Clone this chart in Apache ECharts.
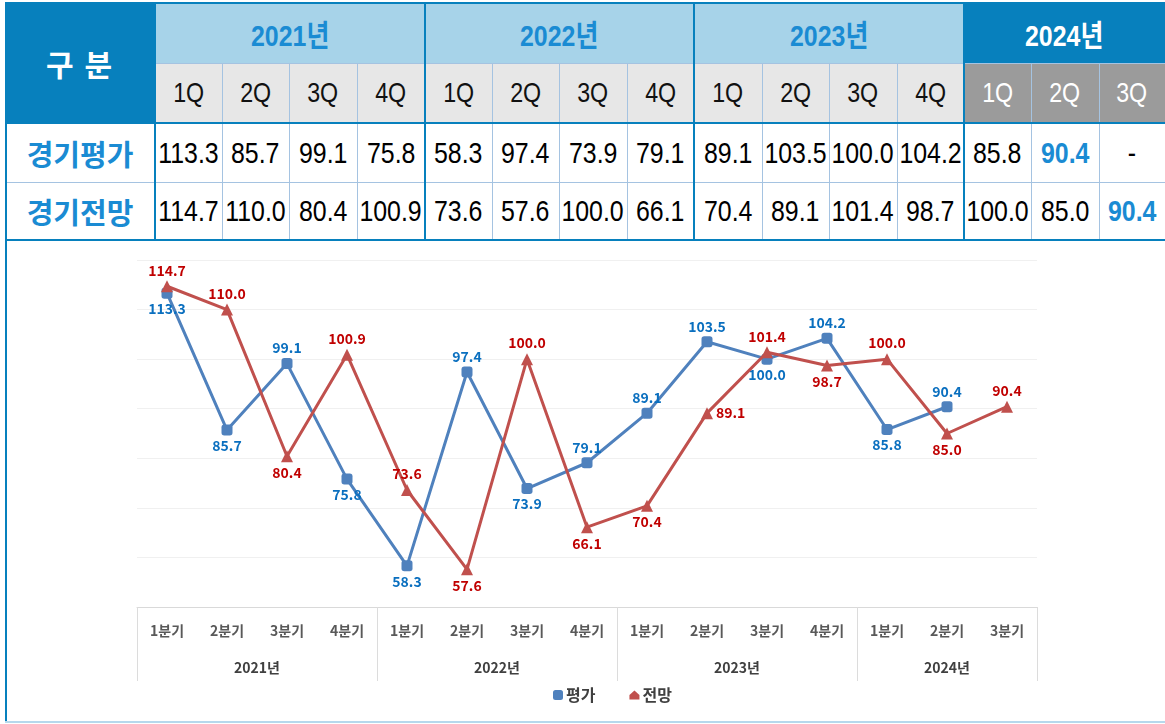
<!DOCTYPE html>
<html>
<head>
<meta charset="utf-8">
<script src="https://cdn.jsdelivr.net/npm/echarts@6/dist/echarts.min.js"></script>
<style>
  html, body { margin: 0; padding: 0; background: #fff; width: 1165px; height: 724px; overflow: hidden; position: relative; font-family: "Noto Sans CJK KR", sans-serif; }
  .cell { position: absolute; display: flex; align-items: center; justify-content: center; white-space: nowrap; }
  .num span { display: inline-block; font-family: "Liberation Sans", Arial, "Noto Sans CJK KR", sans-serif; transform: scaleX(0.83); }
  .ln { position: absolute; z-index: 5; }
  #main { position: absolute; left: 0; top: 240px; width: 1165px; height: 484px; }
</style>
</head>
<body>
<div id="tbl"></div>
<div id="main"></div>
<script>
// 데이터
const years = ['2021년', '2022년', '2023년', '2024년']
const quarterCounts = [4, 4, 4, 3]
const tableQuarters = ['1Q', '2Q', '3Q', '4Q', '1Q', '2Q', '3Q', '4Q', '1Q', '2Q', '3Q', '4Q', '1Q', '2Q', '3Q']
const axisQuarters = ['1분기', '2분기', '3분기', '4분기', '1분기', '2분기', '3분기', '4분기', '1분기', '2분기', '3분기', '4분기', '1분기', '2분기', '3분기']
const rowNames = ['경기평가', '경기전망']
const seriesNames = ['평가', '전망']
const evalValues = [113.3, 85.7, 99.1, 75.8, 58.3, 97.4, 73.9, 79.1, 89.1, 103.5, 100.0, 104.2, 85.8, 90.4, null]
const forecastValues = [114.7, 110.0, 80.4, 100.9, 73.6, 57.6, 100.0, 66.1, 70.4, 89.1, 101.4, 98.7, 100.0, 85.0, 90.4]

// 라벨 위치
const evalLabelPos = ['bottom', 'bottom', 'top', 'bottom', 'bottom', 'top', 'bottom', 'top', 'top', 'top', 'bottom', 'top', 'bottom', 'top', 'top']
const forecastLabelPos = ['top', 'top', 'bottom', 'top', 'top', 'bottom', 'top', 'bottom', 'bottom', 'right', 'top', 'bottom', 'top', 'bottom', 'top']

// ---- 표 ----
const colEdges = [155, 222, 289, 357, 425, 492, 559, 627, 694, 762, 829, 897, 964, 1031, 1099, 1165]
const rowEdges = [3, 63, 123, 182, 240]
const tbl = document.getElementById('tbl')
const DARK = '#0780bd', LIGHT = '#a7d3e9', TXTBLUE = '#1a8bd3'

function box(x, y, w, h, css, text, cls) {
  const d = document.createElement('div')
  d.className = cls || 'cell'
  d.style.left = x + 'px'; d.style.top = y + 'px'
  d.style.width = w + 'px'; d.style.height = h + 'px'
  Object.assign(d.style, css || {})
  if (text !== undefined) {
    if (cls === 'cell num') {
      const sp = document.createElement('span')
      sp.textContent = text
      d.appendChild(sp)
    } else {
      d.textContent = text
    }
  }
  tbl.appendChild(d)
  return d
}

box(5, rowEdges[0], colEdges[0] - 5, rowEdges[2] - rowEdges[0], { background: DARK, color: '#fff', fontSize: '30px', fontWeight: 'bold', letterSpacing: '2px' }, '구 분')

let c = 0
years.forEach((y, i) => {
  const last = i === years.length - 1
  const x0 = colEdges[c], x1 = colEdges[c + quarterCounts[i]]
  box(x0, rowEdges[0], x1 - x0, rowEdges[1] - rowEdges[0], { background: last ? DARK : LIGHT, color: last ? '#fff' : TXTBLUE, fontSize: '30px', fontWeight: 'bold' }, y, 'cell num')
  for (let k = 0; k < quarterCounts[i]; k++) {
    const j = c + k
    box(colEdges[j], rowEdges[1], colEdges[j + 1] - colEdges[j], rowEdges[2] - rowEdges[1], { background: last ? '#9b9b9b' : '#e7e7e7', color: last ? '#fff' : '#111', fontSize: '28px' }, tableQuarters[j], 'cell num')
  }
  c += quarterCounts[i]
})

const tableRows = [evalValues, forecastValues]
tableRows.forEach((vals, r) => {
  const y0 = rowEdges[2 + r], y1 = rowEdges[3 + r]
  box(5, y0, colEdges[0] - 5, y1 - y0, { color: TXTBLUE, fontSize: '29px', fontWeight: 'bold' }, rowNames[r])
  let lastIdx = -1
  vals.forEach((v, j) => { if (v !== null) lastIdx = j })
  vals.forEach((v, j) => {
    const hi = j === lastIdx
    box(colEdges[j], y0, colEdges[j + 1] - colEdges[j], y1 - y0, { color: hi ? TXTBLUE : '#000', fontSize: '30px', fontWeight: hi ? 'bold' : 'normal' }, v === null ? '-' : v.toFixed(1), 'cell num')
  })
})

// 선
function line(x, y, w, h, color) { box(x, y, w, h, { background: color }, undefined, 'ln') }
const THIN = '#a5c3e1'
colEdges.slice(1, -1).forEach((x) => {
  line(x, rowEdges[1], 1, rowEdges[4] - rowEdges[1], THIN)
})
line(colEdges[0], rowEdges[1], 1165 - colEdges[0], 1, THIN)
line(5, rowEdges[3], 1160, 1, THIN)
let acc = 0
;[0].concat(quarterCounts.slice(0, -1)).forEach(n => {
  acc += n
  line(colEdges[acc] - 1, rowEdges[0], 2, rowEdges[4] - rowEdges[0], DARK)
})
line(5, rowEdges[0] - 1, 1160, 2, DARK)
line(5, rowEdges[2] - 1, 1160, 2, DARK)
line(5, rowEdges[4] - 1, 1160, 2, DARK)
line(5, rowEdges[0] - 1, 2, 722 - rowEdges[0], DARK)
line(5, 721, 1160, 2, '#b6d8ec')

// ---- 차트 ----
const chart = echarts.init(document.getElementById('main'))
const FONT = 'Noto Sans CJK KR'
const yearCenters = []
let s = 0
quarterCounts.forEach(n => { yearCenters.push(s + n / 2); s += n })
const groupStarts = []
s = 0
quarterCounts.forEach(n => { groupStarts.push(s); s += n })

function labelData(vals, pos) {
  return vals.map((v, i) => ({ value: v, label: { position: pos[i] } }))
}
const fmt = (p) => p.value == null ? '' : Number(p.value).toFixed(1)

chart.setOption({
  backgroundColor: 'transparent',
  animation: false,
  grid: { left: 137, right: 128, top: 20, bottom: 117 },
  legend: {
    left: 548,
    top: 442,
    itemGap: 34,
    itemWidth: 10,
    itemHeight: 10,
    textStyle: { color: '#404040', fontSize: 16, fontWeight: 'bold', fontFamily: FONT, padding: [0, 0, 0, -2] },
    data: [
      { name: seriesNames[0], icon: 'roundRect' },
      { name: seriesNames[1], icon: 'path://M5,0 L10,4.5 L10,9 L0,9 L0,4.5 Z' }
    ]
  },
  xAxis: [
    {
      type: 'category',
      data: axisQuarters,
      boundaryGap: true,
      axisLine: { lineStyle: { color: '#d9d9d9' } },
      axisTick: {
        show: true,
        length: 74,
        interval: (idx) => groupStarts.indexOf(idx) >= 0,
        lineStyle: { color: '#dcdcdc' }
      },
      axisLabel: { interval: 0, margin: 17, color: '#595959', fontSize: 14, fontWeight: 'bold', fontFamily: FONT }
    },
    {
      type: 'value',
      position: 'bottom',
      min: 0,
      max: axisQuarters.length,
      interval: 0.5,
      axisLine: { show: false },
      axisTick: { show: false },
      splitLine: { show: false },
      axisLabel: {
        margin: 54,
        color: '#404040',
        fontSize: 14,
        fontWeight: 'bold',
        fontFamily: FONT,
        formatter: (v) => {
          const i = yearCenters.indexOf(v)
          return i >= 0 ? years[i] : ''
        }
      }
    }
  ],
  yAxis: {
    type: 'value',
    min: 50,
    max: 120,
    interval: 10,
    axisLine: { show: false },
    axisTick: { show: false },
    axisLabel: { show: false },
    splitLine: { lineStyle: { color: '#f0f0f0' } }
  },
  series: [
    {
      name: seriesNames[0],
      type: 'line',
      xAxisIndex: 0,
      data: labelData(evalValues, evalLabelPos),
      color: '#4f81bd',
      lineStyle: { width: 3, color: '#4f81bd' },
      symbol: 'roundRect',
      symbolSize: 11,
      itemStyle: { color: '#4f81bd' },
      label: { show: true, distance: 3, formatter: fmt, color: '#0a6fbf', fontSize: 14, fontWeight: 'bold', fontFamily: FONT },
      z: 3
    },
    {
      name: seriesNames[1],
      type: 'line',
      xAxisIndex: 0,
      data: labelData(forecastValues, forecastLabelPos),
      color: '#c0504d',
      lineStyle: { width: 3, color: '#c0504d' },
      symbol: 'triangle',
      symbolSize: 12,
      itemStyle: { color: '#c0504d' },
      label: { show: true, distance: 3, formatter: fmt, color: '#c00000', fontSize: 14, fontWeight: 'bold', fontFamily: FONT },
      z: 4
    }
  ]
})
</script>
</body>
</html>
